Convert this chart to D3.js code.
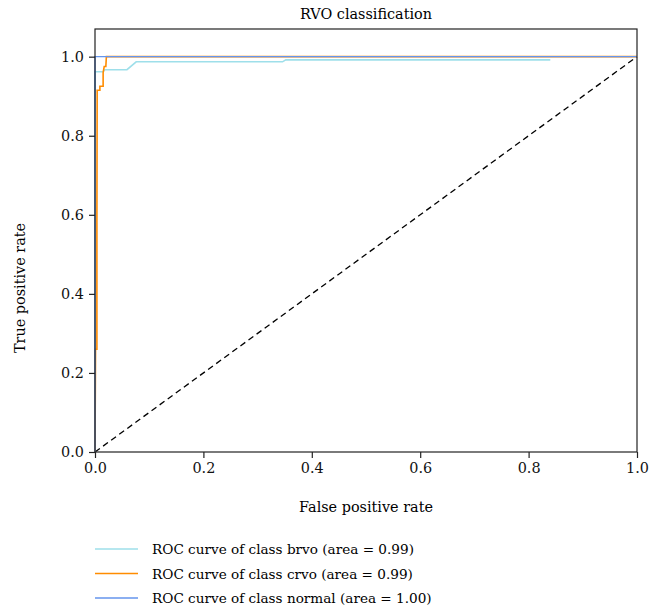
<!DOCTYPE html>
<html>
<head>
<meta charset="utf-8">
<script src="https://cdn.jsdelivr.net/npm/d3@7"></script>
<style>
  body { margin: 0; background: #fff; }
</style>
</head>
<body>
<div id="chart"></div>
<script>
const WIDTH = 667;
const HEIGHT = 612;
const margin = { top: 29, right: 30, bottom: 160, left: 95 };
const FONT = "14.4px 'DejaVu Serif'";
const LEGEND_FONT = "13.6px 'DejaVu Serif'";

// ROC points
const brvoFpr = [0, 0, 0.015, 0.018, 0.059, 0.076, 0.346, 0.352, 0.84];
const brvoTpr = [0, 0.962, 0.962, 0.967, 0.967, 0.987, 0.987, 0.992, 0.992];
const crvoFpr = [0, 0.001, 0.0035, 0.0035, 0.004, 0.004, 0.009, 0.009, 0.015, 0.015, 0.017, 0.02, 0.021, 1];
const crvoTpr = [0, 0.26, 0.26, 0.58, 0.905, 0.915, 0.915, 0.925, 0.925, 0.96, 0.975, 0.975, 1, 1];
const normalFpr = [0, 0, 1];
const normalTpr = [0, 1, 1];

const classNames = ["brvo", "crvo", "normal"];
const classAreas = ["0.99", "0.99", "1.00"];
const classColors = ["#9edfea", "darkorange", "cornflowerblue"];
const tickValues = [0, 0.2, 0.4, 0.6, 0.8, 1.0];

const curves = [
  d3.zip(brvoFpr, brvoTpr),
  d3.zip(crvoFpr, crvoTpr),
  d3.zip(normalFpr, normalTpr)
];

const svg = d3.select("#chart").append("svg")
  .attr("width", WIDTH)
  .attr("height", HEIGHT);

const innerW = WIDTH - margin.left - margin.right;
const innerH = HEIGHT - margin.top - margin.bottom;

const x = d3.scaleLinear().domain([0, 1]).range([margin.left, margin.left + innerW]);
const y = d3.scaleLinear().domain([0, 1.07]).range([margin.top + innerH, margin.top]);

// title
svg.append("text")
  .attr("x", x(0.5)).attr("y", 19)
  .attr("text-anchor", "middle")
  .style("font", FONT)
  .text("RVO classification");

// chance line
svg.append("line")
  .attr("x1", x(0)).attr("y1", y(0))
  .attr("x2", x(1)).attr("y2", y(1))
  .attr("stroke", "#000")
  .attr("stroke-width", 1.3)
  .attr("stroke-dasharray", "6,4");

const line = d3.line().x(d => x(d[0])).y(d => y(d[1]));

svg.append("g").selectAll("path")
  .data(curves)
  .join("path")
  .attr("d", line)
  .attr("fill", "none")
  .attr("stroke", (d, i) => classColors[i])
  .attr("stroke-width", (d, i) => i === 2 ? 1.4 : 1.6);

// frame
svg.append("rect")
  .attr("x", margin.left).attr("y", margin.top)
  .attr("width", innerW).attr("height", innerH)
  .attr("fill", "none")
  .attr("stroke", "#222")
  .attr("stroke-width", 1.2);

const xAxis = svg.append("g")
  .attr("transform", `translate(0,${margin.top + innerH})`)
  .call(d3.axisBottom(x).tickValues(tickValues).tickFormat(d3.format(".1f")).tickSize(6).tickPadding(5));

const yAxis = svg.append("g")
  .attr("transform", `translate(${margin.left},0)`)
  .call(d3.axisLeft(y).tickValues(tickValues).tickFormat(d3.format(".1f")).tickSize(6).tickPadding(5));

[xAxis, yAxis].forEach(a => {
  a.select(".domain").remove();
  a.selectAll("line").attr("stroke", "#222").attr("stroke-width", 1.2);
  a.selectAll("text").attr("fill", "#111").style("font", FONT);
});

svg.append("text")
  .attr("x", x(0.5)).attr("y", 512)
  .attr("text-anchor", "middle")
  .style("font", FONT)
  .text("False positive rate");

svg.append("text")
  .attr("transform", "translate(25,288) rotate(-90)")
  .attr("text-anchor", "middle")
  .style("font", FONT)
  .text("True positive rate");

// legend
const legend = svg.append("g").selectAll("g")
  .data(classNames)
  .join("g")
  .attr("transform", (d, i) => `translate(95,${549 + i * 24.5})`);

legend.append("line")
  .attr("x1", 0).attr("x2", 43)
  .attr("stroke", (d, i) => classColors[i])
  .attr("stroke-width", 1.6);

legend.append("text")
  .attr("x", 57).attr("y", 5)
  .style("font", LEGEND_FONT)
  .text((d, i) => `ROC curve of class ${d} (area = ${classAreas[i]})`);
</script>
</body>
</html>
